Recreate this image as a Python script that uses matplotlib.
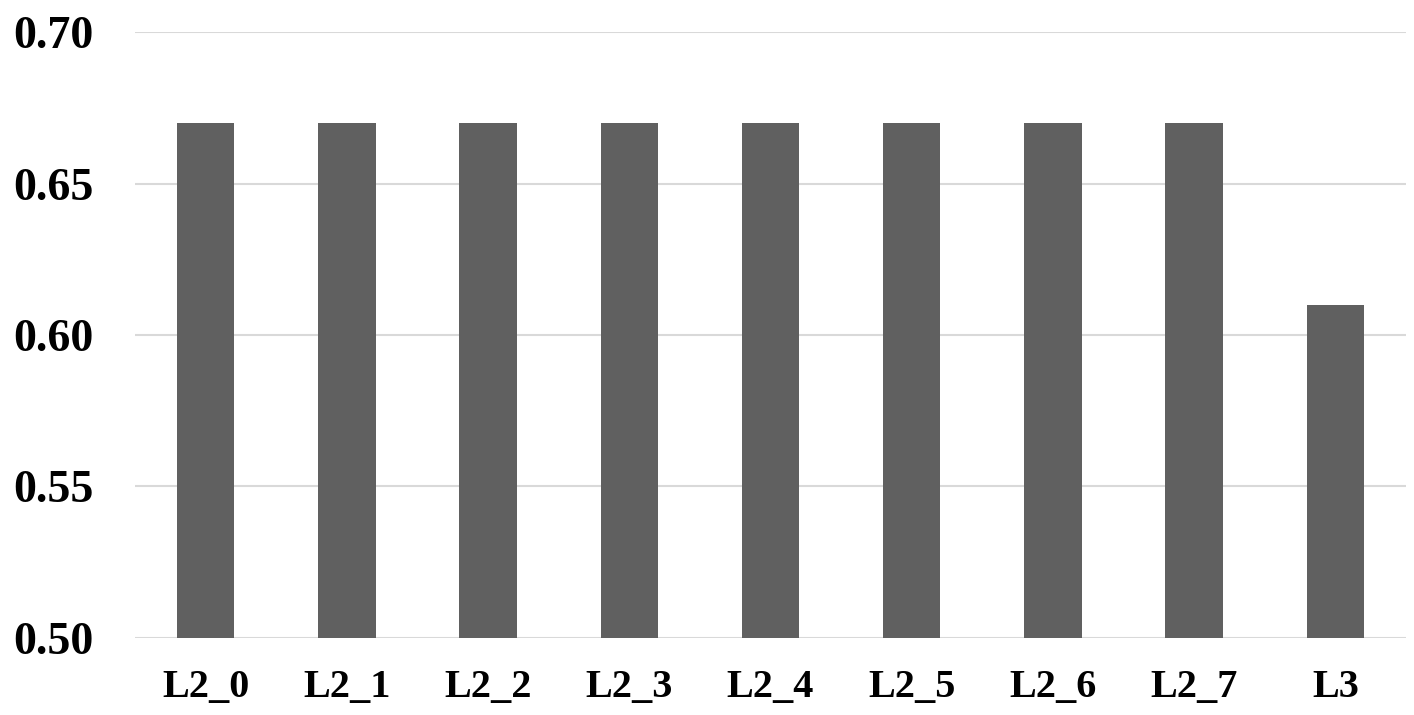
import matplotlib
matplotlib.use("Agg")
import matplotlib.pyplot as plt

categories = ["L2_0", "L2_1", "L2_2", "L2_3", "L2_4", "L2_5", "L2_6", "L2_7", "L3"]
values = [0.67, 0.67, 0.67, 0.67, 0.67, 0.67, 0.67, 0.67, 0.61]
yticks = [0.50, 0.55, 0.60, 0.65, 0.70]

plt.rcParams['font.family'] = ['Liberation Serif', 'DejaVu Serif']
plt.rcParams['font.weight'] = 'bold'

fig = plt.figure(figsize=(14.14, 7.15), dpi=100)
ax = fig.add_axes([135/1414, 1-638/715, (1406-135)/1414, (638-32)/715])

x = list(range(len(categories)))
ax.bar(x, values, width=0.406, color="#606060", zorder=3)
ax.set_xlim(-0.5, len(categories)-0.5)
ax.set_ylim(0.50, 0.70)
ax.set_yticks(yticks)
ax.set_yticklabels([f"{v:.2f}" for v in yticks], fontsize=33, fontweight='bold')
ax.set_xticks(x)
ax.set_xticklabels(categories, fontsize=29, fontweight='bold')
ax.tick_params(axis='y', length=0, pad=30)
ax.tick_params(axis='x', length=0, pad=22)
ax.grid(axis='y', color="#d9d9d9", linewidth=1.5, zorder=0)
for s in ax.spines.values():
    s.set_visible(False)

fig.savefig("out.png", dpi=100)
